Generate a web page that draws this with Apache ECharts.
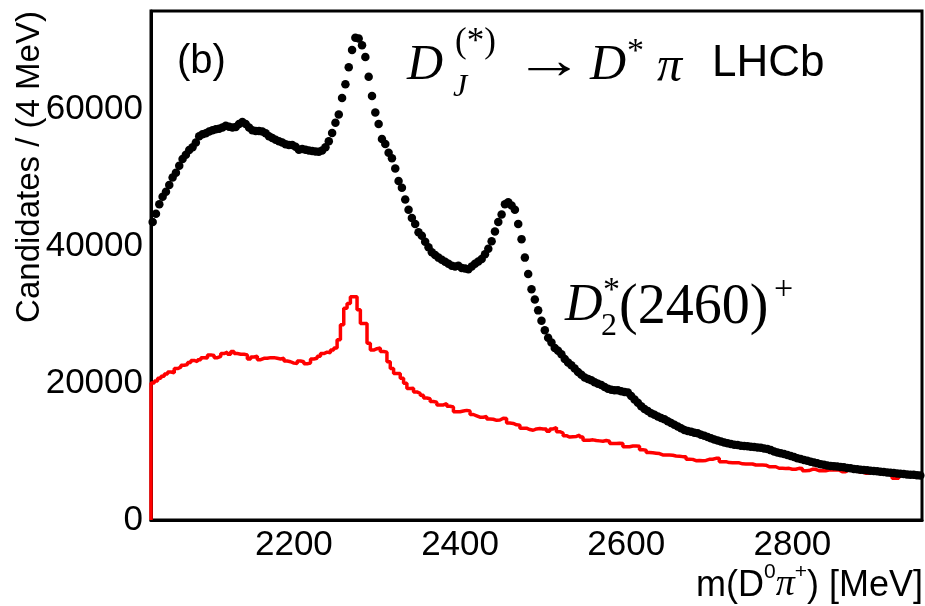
<!DOCTYPE html>
<html>
<head>
<meta charset="utf-8">
<script src="https://cdn.jsdelivr.net/npm/echarts@6/dist/echarts.min.js"></script>
<style>html,body{margin:0;padding:0;background:#fff;}#c{width:925px;height:606px;}</style>
</head>
<body>
<div id="c"></div>
<script>
// Bin settings (4 MeV bins)
const binStart = 2028;
const binWidth = 4;
const xTicks = [2200, 2400, 2600, 2800];
const yTicks = [0, 20000, 40000, 60000];

// Data points (black dots), candidates per 4 MeV bin
const dataCounts = [
43500,44700,46100,47200,47900,48900,50000,50700,51700,52700,
53300,54000,54400,55100,56000,56300,56450,56700,56900,57050,
57100,57300,57550,57400,57300,57350,57800,58100,57800,57300,
56900,56800,56800,56700,56450,56000,55750,55500,55300,55100,
54850,54750,54750,54500,54050,54150,54050,53950,53850,53800,
53750,53950,54400,55300,56500,58000,59200,61600,63600,66100,
68600,70400,70300,69300,67600,64700,61900,59500,57800,55600,
54900,53600,52800,51300,49500,48500,46800,45300,44100,43200,
42000,41500,40600,39800,39100,38700,38300,38000,37700,37400,
37100,37000,37100,36800,36700,36600,37000,37400,37750,38100,
38800,39600,40700,42100,43500,44600,46100,46400,45900,45300,
43200,41000,38300,35900,33700,32200,30600,29100,27700,26600,
25900,25100,24700,24200,23500,23000,22600,22100,21600,21200,
20800,20600,20400,20100,19900,19700,19400,19150,19000,18950,
18950,18800,18700,18600,18100,17600,17100,16600,16200,15900,
15600,15350,15100,14900,14700,14400,14150,13900,13650,13400,
13150,13000,12900,12750,12650,12450,12300,12100,11950,11750,
11600,11450,11300,11200,11100,11000,10950,10850,10800,10750,
10700,10650,10600,10550,10450,10350,10200,10000,9850,9750,
9650,9500,9350,9200,9000,8900,8750,8650,8500,8400,
8300,8150,8050,7950,7900,7850,7800,7750,7700,7600,
7550,7450,7400,7350,7300,7250,7200,7150,7100,7050,
7000,6950,6900,6850,6800,6750,6700,6650,6600,6600,
6550,6500
];

// Red histogram, candidates per 4 MeV bin
const redCounts = [
20000,20300,20700,21000,21300,21600,21500,22100,22300,22600,
22700,23000,23300,23100,23400,23700,23650,24100,24000,23700,
23900,24300,24500,24200,24600,24300,24200,24200,24100,23500,
23800,23900,23400,23600,23600,23700,23700,23600,23500,23600,
23200,23100,22900,22850,23200,23100,22800,22900,23500,23600,
23900,24300,24500,24400,24800,25100,26300,28500,30900,31600,
32600,32600,30700,28700,28700,25800,24800,25000,25100,24600,
24500,23100,22100,21400,21400,20700,19950,19200,19250,18700,
18500,18200,17800,17700,17300,17200,16800,16800,17000,16600,
16500,15800,15800,15900,16000,15900,15400,15200,15000,15000,
15100,14750,14700,14550,14600,14850,14800,14150,14100,13900,
13850,13400,13400,13200,13100,13300,13350,13300,13300,12950,
13300,13500,12900,12700,12300,12100,12150,12200,12400,12100,
11650,11650,11700,11600,11550,11500,11600,11500,11150,11150,
11200,11150,10700,10700,10800,10800,10750,10250,10200,9850,
9800,9750,9700,9500,9500,9480,9450,9350,9320,9250,
9250,8880,8850,8650,8680,8650,8700,8850,8870,9000,
9000,8500,8520,8380,8370,8360,8350,8200,8180,8170,
8180,8030,8040,8020,8000,7780,7790,7770,7550,7540,
7530,7540,7400,7410,7540,7530,7200,7210,7400,7390,
7200,7210,7190,7300,7310,7290,7300,7050,7060,7300,
7290,7300,7050,7040,6820,6830,7050,7040,7050,6820,
6830,6760,6750,6090,6100,6570,6560,6420,6430,6230,
6240,6230
];

const nBins = dataCounts.length;
const xMin = binStart;
const xMax = binStart + nBins * binWidth;
const yMax = 74300;

// build point data (bin centres) and histogram step data (bin edges)
const dotData = dataCounts.map((v, i) => [binStart + binWidth * (i + 0.5), v]);
const histData = [[binStart, 0]];
redCounts.forEach((v, i) => histData.push([binStart + binWidth * i, v]));
histData.push([binStart + binWidth * redCounts.length, redCounts[redCounts.length - 1]]);

const SANS = '"Liberation Sans", Arial, sans-serif';
const SERIF = '"Liberation Serif", "DejaVu Serif", serif';

const chart = echarts.init(document.getElementById('c'), null, {renderer: 'canvas'});
chart.setOption({
  animation: false,
  backgroundColor: '#fff',
  grid: {left: 151, right: 3, top: 11, bottom: 86, show: true, borderColor: '#000', borderWidth: 3, backgroundColor: 'transparent'},
  xAxis: {
    type: 'value', min: xMin, max: xMax,
    axisLine: {show: true, lineStyle: {color: '#000', width: 3}},
    axisTick: {show: false},
    splitLine: {show: false},
    axisLabel: {customValues: xTicks, formatter: v => String(v), color: '#000', fontFamily: SANS, fontSize: 35, margin: 8}
  },
  yAxis: {
    type: 'value', min: 0, max: yMax,
    axisLine: {show: true, lineStyle: {color: '#000', width: 3}},
    axisTick: {show: false},
    splitLine: {show: false},
    axisLabel: {customValues: yTicks, formatter: v => String(v), color: '#000', fontFamily: SANS, fontSize: 35, margin: 8}
  },
  series: [
    {
      type: 'line', name: 'background', data: histData, step: 'end', showSymbol: false,
      lineStyle: {color: '#ff0000', width: 3.5}, z: 2
    },
    {
      type: 'scatter', name: 'data', data: dotData, symbol: 'circle', symbolSize: 8.5,
      itemStyle: {color: '#000', opacity: 1}, z: 3
    }
  ],
  graphic: [
    {type: 'text', x: 30, y: 167, rotation: Math.PI / 2,
      style: {text: 'Candidates / (4 MeV)', font: '33px ' + SANS, fill: '#000', textAlign: 'center', textVerticalAlign: 'middle'}},
    {type: 'text', x: 923, y: 583,
      style: {text: '{n|m(D}{s|0}{p|π}{s|+}{n|) [MeV]}', fill: '#000', textAlign: 'right', textVerticalAlign: 'middle',
        rich: {
          n: {fontFamily: SANS, fontSize: 36, lineHeight: 42, verticalAlign: 'bottom'},
          s: {fontFamily: SANS, fontSize: 21, lineHeight: 42, verticalAlign: 'top'},
          p: {fontFamily: SERIF, fontStyle: 'italic', fontSize: 38, lineHeight: 42, verticalAlign: 'bottom'}
        }}},
    {type: 'text', x: 177, y: 62, style: {text: '(b)', font: '40px ' + SANS, fill: '#000', textVerticalAlign: 'middle'}},
    // D_J^(*) -> D* pi LHCb
    {type: 'text', x: 407, y: 66, style: {text: 'D', font: 'italic 50px ' + SERIF, fill: '#000', textVerticalAlign: 'middle'}},
    {type: 'text', x: 455, y: 43, style: {text: '(*)', font: '35px ' + SERIF, fill: '#000', textVerticalAlign: 'middle'}},
    {type: 'text', x: 453, y: 88, style: {text: 'J', font: 'italic 32px ' + SERIF, fill: '#000', textVerticalAlign: 'middle'}},
    {type: 'text', x: 514, y: 64, scaleX: 1.3, style: {text: '→', font: '54px ' + SERIF, fill: '#000', textVerticalAlign: 'middle'}},
    {type: 'text', x: 590, y: 66, style: {text: 'D', font: 'italic 50px ' + SERIF, fill: '#000', textVerticalAlign: 'middle'}},
    {type: 'text', x: 627, y: 52, style: {text: '*', font: '34px ' + SERIF, fill: '#000', textVerticalAlign: 'middle'}},
    {type: 'text', x: 657, y: 68, style: {text: 'π', font: 'italic 50px ' + SERIF, fill: '#000', textVerticalAlign: 'middle'}},
    {type: 'text', x: 712, y: 64, style: {text: 'LHCb', font: '44px ' + SANS, fill: '#000', textVerticalAlign: 'middle'}},
    // D_2^*(2460)^+
    {type: 'text', x: 565, y: 306, style: {text: 'D', font: 'italic 52px ' + SERIF, fill: '#000', textVerticalAlign: 'middle'}},
    {type: 'text', x: 603, y: 291, style: {text: '*', font: '34px ' + SERIF, fill: '#000', textVerticalAlign: 'middle'}},
    {type: 'text', x: 601, y: 327, style: {text: '2', font: '32px ' + SERIF, fill: '#000', textVerticalAlign: 'middle'}},
    {type: 'text', x: 619, y: 308, style: {text: '(2460)', font: '56px ' + SERIF, fill: '#000', textVerticalAlign: 'middle'}},
    {type: 'text', x: 774, y: 290, style: {text: '+', font: '34px ' + SERIF, fill: '#000', textVerticalAlign: 'middle'}}
  ]
});
</script>
</body>
</html>
